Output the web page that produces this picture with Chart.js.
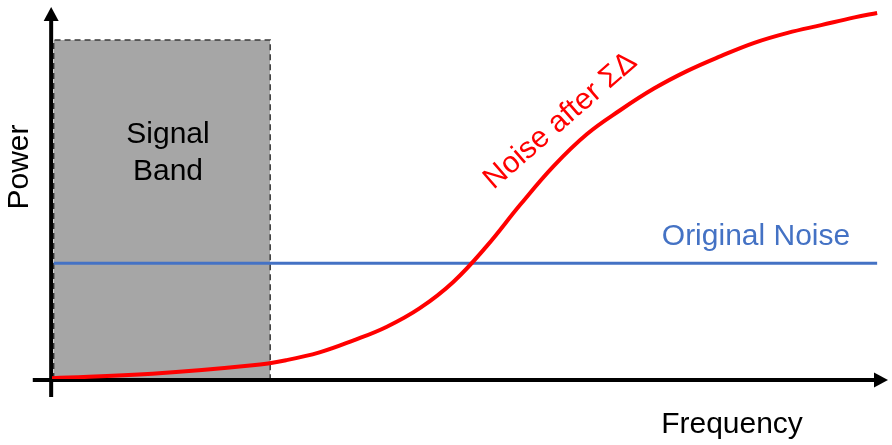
<!DOCTYPE html>
<html>
<head>
<meta charset="utf-8">
<script src="https://cdn.jsdelivr.net/npm/chart.js@4/dist/chart.umd.min.js"></script>
<style>
  html, body { margin: 0; padding: 0; background: #fff; }
  #wrap { width: 892px; height: 445px; }
</style>
</head>
<body>
<div id="wrap"><canvas id="sdChart" width="892" height="445"></canvas></div>
<script>
// Frequency / power values (arbitrary units, 0-100)
const noiseFreq = [0, 12, 24, 28, 32, 36, 40, 44, 48, 52, 56, 60, 64, 68, 72, 76, 80, 84, 88, 92, 96, 98.7];
const noisePower = [0.2, 1.4, 3.7, 5.1, 7.2, 10.4, 14.1, 19.2, 26.3, 36.0, 47.2, 57.7, 66.4, 72.9, 78.7, 83.5, 87.5, 91.1, 93.8, 95.9, 98.0, 99.2];

const originalFreq = [0.2, 98.7];
const originalPower = [31.4, 31.4];

const bandFreq = [0.2, 0.2, 26.1, 26.1];
const bandPower = [0, 91.9, 91.9, 0];

const toPoints = (xs, ys) => xs.map((x, i) => ({ x: x, y: ys[i] }));

const FONT = '30px "Liberation Sans", Arial, sans-serif';

// Axes with arrow heads, drawn right after the signal band so lines sit on top
const axesPlugin = {
  id: 'axes',
  afterDatasetDraw(chart, args) {
    if (args.index !== 2) return;
    const { ctx, scales: { x, y } } = chart;
    const ox = x.getPixelForValue(-0.1);
    const oy = y.getPixelForValue(-0.3);
    ctx.save();
    ctx.strokeStyle = '#000';
    ctx.fillStyle = '#000';
    ctx.lineWidth = 4;
    // y axis
    const yTop = y.getPixelForValue(100.8);
    ctx.beginPath();
    ctx.moveTo(ox, y.getPixelForValue(-4.9));
    ctx.lineTo(ox, yTop + 10);
    ctx.stroke();
    ctx.beginPath();
    ctx.moveTo(ox, yTop);
    ctx.lineTo(ox - 7.5, yTop + 14);
    ctx.lineTo(ox + 7.5, yTop + 14);
    ctx.closePath();
    ctx.fill();
    // x axis
    const xEnd = x.getPixelForValue(100);
    ctx.beginPath();
    ctx.moveTo(x.getPixelForValue(-2.3), oy);
    ctx.lineTo(xEnd - 10, oy);
    ctx.stroke();
    ctx.beginPath();
    ctx.moveTo(xEnd, oy);
    ctx.lineTo(xEnd - 14, oy - 7.5);
    ctx.lineTo(xEnd - 14, oy + 7.5);
    ctx.closePath();
    ctx.fill();
    ctx.restore();
  }
};

// Text labels
const labelsPlugin = {
  id: 'labels',
  afterDraw(chart) {
    const { ctx } = chart;
    ctx.save();
    ctx.font = FONT;
    ctx.textAlign = 'center';
    ctx.textBaseline = 'alphabetic';

    ctx.fillStyle = '#000';
    ctx.fillText('Signal', 168, 143);
    ctx.fillText('Band', 168, 180);
    ctx.fillText('Frequency', 732, 433);

    ctx.save();
    ctx.translate(28, 167);
    ctx.rotate(-Math.PI / 2);
    ctx.fillText('Power', 0, 0);
    ctx.restore();

    ctx.fillStyle = '#4472c4';
    ctx.fillText('Original Noise', 756, 245);

    ctx.fillStyle = '#ff0000';
    ctx.save();
    ctx.translate(566, 127);
    ctx.rotate(-41 * Math.PI / 180);
    ctx.fillText('Noise after \u03A3\u0394', 0, 0);
    ctx.restore();

    ctx.restore();
  }
};

new Chart(document.getElementById('sdChart'), {
  type: 'line',
  data: {
    datasets: [
      {
        label: 'Noise after ΣΔ',
        data: toPoints(noiseFreq, noisePower),
        borderColor: '#ff0000',
        borderWidth: 4,
        pointRadius: 0,
        tension: 0.4,
        fill: false,
        order: 0
      },
      {
        label: 'Original Noise',
        data: toPoints(originalFreq, originalPower),
        borderColor: '#4472c4',
        borderWidth: 3,
        pointRadius: 0,
        fill: false,
        order: 1
      },
      {
        label: 'Signal Band',
        data: toPoints(bandFreq, bandPower),
        borderColor: '#3a3a3a',
        borderWidth: 1.5,
        borderDash: [6, 4],
        backgroundColor: '#a6a6a6',
        pointRadius: 0,
        tension: 0,
        fill: 'origin',
        order: 2
      }
    ]
  },
  options: {
    responsive: false,
    animation: false,
    events: [],
    layout: { padding: { left: 52, right: 4, top: 10, bottom: 66 } },
    plugins: {
      legend: { display: false },
      tooltip: { enabled: false }
    },
    scales: {
      x: { type: 'linear', min: 0, max: 100, display: false },
      y: { type: 'linear', min: 0, max: 100, display: false }
    }
  },
  plugins: [axesPlugin, labelsPlugin]
});
</script>
</body>
</html>
